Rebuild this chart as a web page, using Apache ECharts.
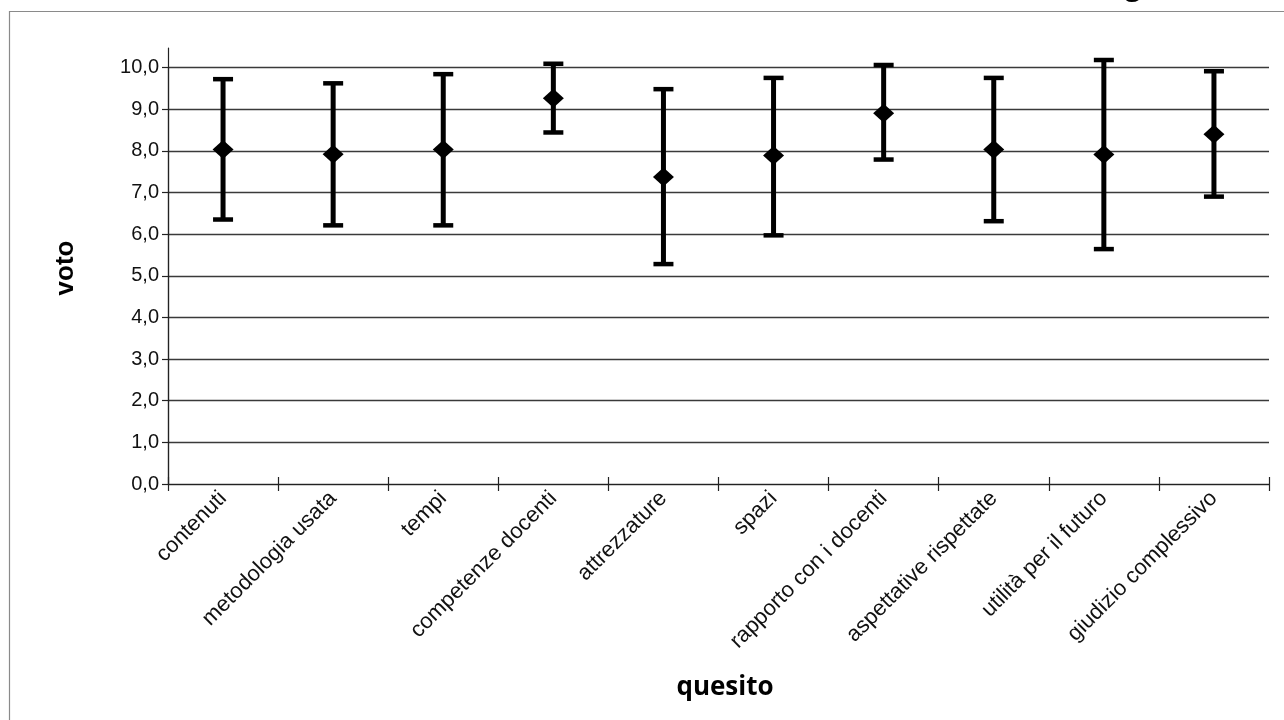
<!DOCTYPE html>
<html>
<head>
<meta charset="utf-8">
<script src="https://cdn.jsdelivr.net/npm/echarts@6/dist/echarts.min.js"></script>
<style>
  html, body { margin: 0; padding: 0; background: #fff; }
  #chart { width: 1284px; height: 720px; }
</style>
</head>
<body>
<div id="chart"></div>
<script>
// quesiti del questionario
var categories = [
  "contenuti", "metodologia usata", "tempi", "competenze docenti", "attrezzature",
  "spazi", "rapporto con i docenti", "aspettative rispettate", "utilità per il futuro", "giudizio complessivo"
];
// voto medio e estremi delle barre di errore
var means = [8.03, 7.92, 8.03, 9.26, 7.37, 7.89, 8.90, 8.03, 7.91, 8.40];
var upper = [9.72, 9.62, 9.84, 10.09, 9.48, 9.75, 10.06, 9.75, 10.18, 9.91];
var lower = [6.35, 6.21, 6.21, 8.44, 5.28, 5.97, 7.79, 6.31, 5.64, 6.90];

var errData = [];
for (var i = 0; i < categories.length; i++) {
  errData.push([i, lower[i], upper[i]]);
}
var meanData = [];
for (var j = 0; j < categories.length; j++) {
  meanData.push([j, means[j]]);
}

var chart = echarts.init(document.getElementById("chart"));

var option = {
  animation: false,
  backgroundColor: "#fff",
  grid: [
    { left: 168, right: 15, top: 67.5, bottom: 236 },
    { left: 168, right: 15, top: 48, bottom: 236 }
  ],
  xAxis: [
    {
      type: "category",
      gridIndex: 0,
      data: categories,
      boundaryGap: true,
      axisLine: { lineStyle: { color: "#222", width: 1.2 } },
      axisTick: { show: true, interval: 0, length: 7, lineStyle: { color: "#222", width: 1.2 } },
      axisLabel: {
        rotate: 45,
        interval: 0,
        margin: 11,
        color: "#111",
        fontSize: 22,
        fontFamily: "Liberation Sans, Arial, sans-serif"
      },
      splitLine: { show: false }
    },
    {
      // ticks inside, to make the cross ticks
      type: "category",
      gridIndex: 0,
      position: "bottom",
      data: categories,
      axisLine: { show: false },
      axisTick: { show: true, interval: 0, inside: true, length: 7, lineStyle: { color: "#222", width: 1.2 } },
      axisLabel: { show: false },
      splitLine: { show: false }
    },
    {
      type: "category",
      gridIndex: 1,
      data: categories,
      show: false
    }
  ],
  yAxis: [
    {
      type: "value",
      gridIndex: 0,
      min: 0,
      max: 10,
      interval: 1,
      axisLine: { show: true, lineStyle: { color: "#222", width: 1.2 } },
      axisTick: { show: true, length: 6, lineStyle: { color: "#222", width: 1.2 } },
      axisLabel: {
        color: "#111",
        fontSize: 20,
        margin: 9,
        fontFamily: "Liberation Sans, Arial, sans-serif",
        formatter: function (v) { return v.toFixed(1).replace(".", ","); }
      },
      splitLine: { show: true, lineStyle: { color: "#3a3a3a", width: 1.3 } }
    },
    {
      type: "value",
      gridIndex: 1,
      min: 0,
      max: 10.5,
      axisLine: { show: true, lineStyle: { color: "#222", width: 1.2 } },
      axisTick: { show: false },
      axisLabel: { show: false },
      splitLine: { show: false }
    }
  ],
  series: [
    {
      type: "custom",
      xAxisIndex: 0,
      yAxisIndex: 0,
      data: errData,
      z: 3,
      renderItem: function (params, api) {
        var x = api.value(0);
        var lo = api.coord([x, api.value(1)]);
        var hi = api.coord([x, api.value(2)]);
        var half = 10;
        var style = { stroke: "#000", lineWidth: 5 };
        return {
          type: "group",
          children: [
            { type: "line", shape: { x1: lo[0], y1: lo[1], x2: hi[0], y2: hi[1] }, style: style },
            { type: "line", shape: { x1: hi[0] - half, y1: hi[1], x2: hi[0] + half, y2: hi[1] }, style: { stroke: "#000", lineWidth: 4.5 } },
            { type: "line", shape: { x1: lo[0] - half, y1: lo[1], x2: lo[0] + half, y2: lo[1] }, style: { stroke: "#000", lineWidth: 4.5 } }
          ]
        };
      }
    },
    {
      type: "scatter",
      xAxisIndex: 0,
      yAxisIndex: 0,
      data: meanData,
      symbol: "diamond",
      symbolSize: [21, 19],
      itemStyle: { color: "#000", opacity: 1 },
      z: 4
    }
  ],
  graphic: [
    {
      type: "rect",
      shape: { x: 9.5, y: 11.5, width: 1300, height: 720 },
      style: { fill: "none", stroke: "#8a8a8a", lineWidth: 1.2 },
      silent: true
    },
    {
      type: "text",
      x: 1133,
      y: 1,
      style: {
        text: "g",
        fontSize: 28,
        fontWeight: "bold",
        fontFamily: "Open Sans, sans-serif",
        fill: "#000",
        align: "center",
        verticalAlign: "bottom"
      }
    },
    {
      type: "text",
      x: 66,
      y: 268,
      rotation: Math.PI / 2,
      style: {
        text: "voto",
        fontSize: 26,
        fontWeight: "bold",
        fontFamily: "Liberation Sans, Arial, sans-serif",
        fill: "#000",
        align: "center",
        verticalAlign: "middle"
      }
    },
    {
      type: "text",
      x: 725,
      y: 688,
      style: {
        text: "quesito",
        fontSize: 26,
        fontWeight: "bold",
        fontFamily: "Open Sans, sans-serif",
        fill: "#000",
        align: "center",
        verticalAlign: "middle"
      }
    }
  ]
};

chart.setOption(option);
</script>
</body>
</html>
